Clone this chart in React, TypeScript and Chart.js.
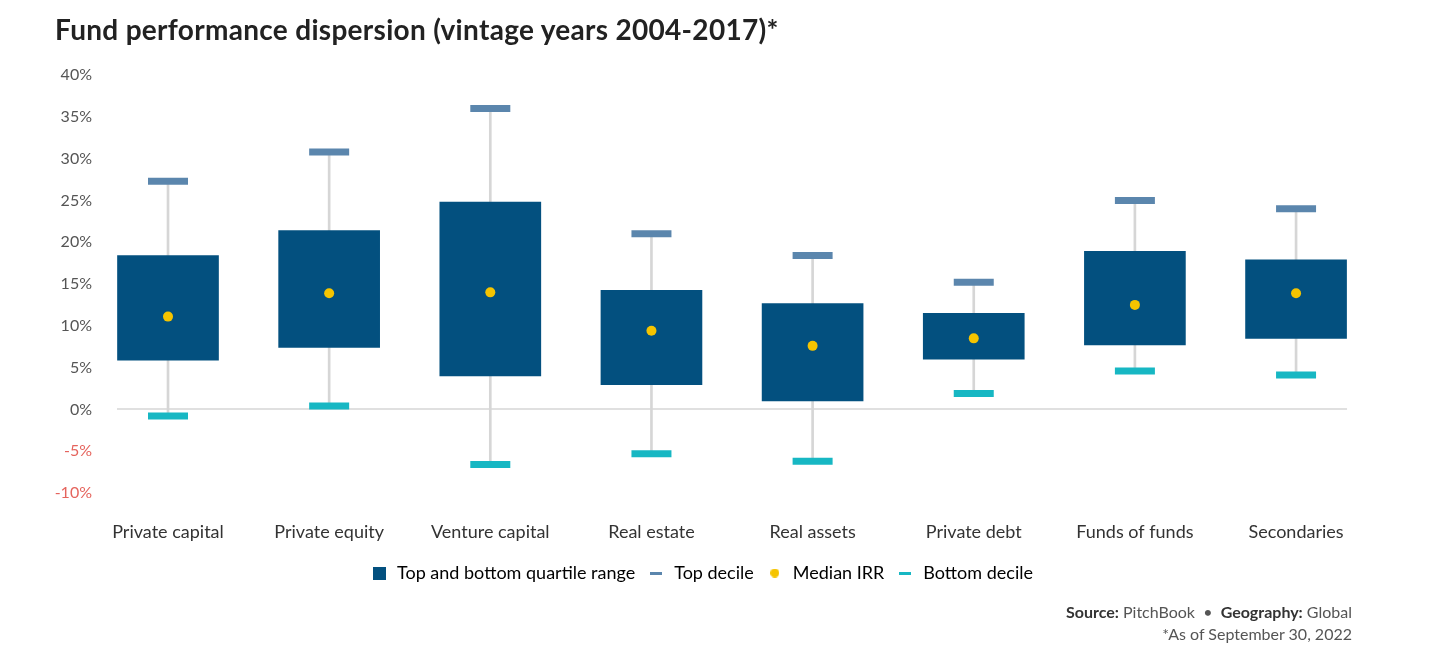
import React, { useEffect, useRef } from 'react';
import { Chart, registerables } from 'chart.js';

Chart.register(...registerables);

const categories = ['Private capital', 'Private equity', 'Venture capital', 'Real estate', 'Real assets', 'Private debt', 'Funds of funds', 'Secondaries'];
const bottomQuartile = [5.9, 7.4, 4.0, 2.95, 1.0, 6.0, 7.7, 8.5];
const topQuartile = [18.4, 21.4, 24.8, 14.25, 12.65, 11.5, 18.9, 17.9];
const topDecile = [27.3, 30.8, 36.0, 21.0, 18.4, 15.2, 25.0, 24.0];
const bottomDecile = [-0.8, 0.4, -6.6, -5.3, -6.2, 1.9, 4.6, 4.1];
const medianIRR = [11.1, 13.9, 14.0, 9.4, 7.6, 8.5, 12.5, 13.9];
const yMin = -10;
const yMax = 40;
const yStep = 5;

const FONT = 'Lato';
const BOX = '#03507f';
const TOPDEC = '#5b86ad';
const BOTDEC = '#17b7c3';
const MEDIAN = '#f5c400';
const WHISKER = '#d6d6d6';

function makeIcon(w: number, h: number, color: string, circle = false): HTMLCanvasElement {
  const c = document.createElement('canvas');
  c.width = w;
  c.height = h;
  const ctx = c.getContext('2d')!;
  ctx.fillStyle = color;
  if (circle) {
    ctx.beginPath();
    ctx.arc(w / 2, h / 2, w / 2, 0, Math.PI * 2);
    ctx.fill();
  } else {
    ctx.fillRect(0, 0, w, h);
  }
  return c;
}

const zeroLinePlugin = {
  id: 'zeroLine',
  beforeDatasetsDraw(chart: any) {
    const x = chart.scales.x;
    const y = chart.scales.y;
    const ctx = chart.ctx;
    const y0 = Math.round(y.getPixelForValue(0));
    const left = x.getPixelForValue(0) - 51;
    const right = x.getPixelForValue(categories.length - 1) + 51;
    ctx.save();
    ctx.strokeStyle = '#e0e0e0';
    ctx.lineWidth = 2;
    ctx.beginPath();
    ctx.moveTo(left, y0);
    ctx.lineTo(right, y0);
    ctx.stroke();
    ctx.restore();
  },
};

export default function App() {
  const ref = useRef<HTMLCanvasElement | null>(null);

  useEffect(() => {
    if (!ref.current) return;
    const icons = [
      makeIcon(13, 13, BOX),
      makeIcon(12, 3, TOPDEC),
      makeIcon(9, 9, MEDIAN, true),
      makeIcon(12, 3, BOTDEC),
    ];
    const legendNames = ['Top and bottom quartile range', 'Top decile', 'Median IRR', 'Bottom decile'];
    const legendColors = [BOX, TOPDEC, MEDIAN, BOTDEC];

    const chart = new Chart(ref.current, {
      type: 'bar',
      data: {
        datasets: [
          {
            type: 'bar',
            label: 'Whisker',
            data: categories.map((_, i) => ({ x: i, y: [bottomDecile[i], topDecile[i]] })) as any,
            backgroundColor: WHISKER,
            barThickness: 2,
            grouped: false,
            order: 5,
          } as any,
          {
            type: 'bar',
            label: 'Top and bottom quartile range',
            data: categories.map((_, i) => ({ x: i, y: [bottomQuartile[i], topQuartile[i]] })) as any,
            backgroundColor: BOX,
            barThickness: 101,
            grouped: false,
            order: 4,
          } as any,
          {
            type: 'scatter',
            label: 'Top decile',
            data: categories.map((_, i) => ({ x: i, y: topDecile[i] })),
            pointStyle: 'line',
            pointRadius: 20,
            pointBorderWidth: 7,
            pointBorderColor: TOPDEC,
            pointBackgroundColor: TOPDEC,
            order: 2,
          } as any,
          {
            type: 'scatter',
            label: 'Median IRR',
            data: categories.map((_, i) => ({ x: i, y: medianIRR[i] })),
            pointStyle: 'circle',
            pointRadius: 5,
            pointBorderWidth: 0,
            pointBackgroundColor: MEDIAN,
            order: 1,
          } as any,
          {
            type: 'scatter',
            label: 'Bottom decile',
            data: categories.map((_, i) => ({ x: i, y: bottomDecile[i] })),
            pointStyle: 'line',
            pointRadius: 20,
            pointBorderWidth: 7,
            pointBorderColor: BOTDEC,
            pointBackgroundColor: BOTDEC,
            order: 2,
          } as any,
        ],
      },
      options: {
        responsive: false,
        maintainAspectRatio: false,
        animation: false,
        events: [],
        layout: { padding: { left: 47, top: 75, right: 88, bottom: 76 } },
        scales: {
          x: {
            type: 'linear',
            offset: false,
            min: -0.3165,
            max: 7.372,
            grid: { display: false, drawTicks: false },
            border: { display: false },
            afterBuildTicks: (scale: any) => {
              scale.ticks = categories.map((_, i) => ({ value: i }));
            },
            afterFit: (scale: any) => {
              scale.height = 59;
            },
            ticks: {
              autoSkip: false,
              maxRotation: 0,
              padding: 28,
              color: '#333',
              font: { family: FONT, size: 18 },
              callback: (v: any) => categories[v as number] ?? '',
            },
          },
          y: {
            min: yMin,
            max: yMax,
            grid: { display: false, drawTicks: false },
            border: { display: false },
            afterFit: (scale: any) => {
              scale.width = 70;
            },
            ticks: {
              stepSize: yStep,
              padding: 25,
              color: (ctx: any) => (ctx.tick && ctx.tick.value < 0 ? '#e5645d' : '#555'),
              font: { family: FONT, size: 16 },
              callback: (v: any) => `${v}%`,
            },
          },
        },
        plugins: {
          tooltip: { enabled: false },
          legend: {
            display: true,
            position: 'bottom',
            labels: {
              usePointStyle: true,
              color: '#333',
              font: { family: FONT, size: 18 },
              padding: 12,
              generateLabels: () =>
                legendNames.map((t, i) => ({
                  text: t,
                  fillStyle: legendColors[i],
                  strokeStyle: legendColors[i],
                  lineWidth: 0,
                  pointStyle: icons[i] as any,
                  hidden: false,
                  datasetIndex: i + 1,
                })),
            },
          },
        },
      },
      plugins: [zeroLinePlugin],
    });
    return () => chart.destroy();
  }, []);

  return (
    <div style={{ position: 'absolute', left: 0, top: 0, width: 1444, height: 668, background: '#fff', fontFamily: FONT }}>
      <canvas ref={ref} width={1444} height={668} style={{ position: 'absolute', left: 0, top: 0, width: 1444, height: 668 }} />
      <div
        style={{
          position: 'absolute',
          left: 55,
          top: 11,
          fontSize: 28,
          fontWeight: 700,
          letterSpacing: '0.3px',
          color: '#222',
          whiteSpace: 'nowrap',
          lineHeight: '36px',
        }}
      >
        Fund performance dispersion (vintage years 2004-2017)*
      </div>
      <div
        style={{
          position: 'absolute',
          right: 92,
          top: 601,
          fontSize: 16,
          color: '#555',
          textAlign: 'right',
          lineHeight: '22px',
          whiteSpace: 'nowrap',
        }}
      >
        <div>
          <b style={{ color: '#333' }}>Source:</b> PitchBook&nbsp; •&nbsp; <b style={{ color: '#333' }}>Geography:</b> Global
        </div>
        <div>*As of September 30, 2022</div>
      </div>
    </div>
  );
}
